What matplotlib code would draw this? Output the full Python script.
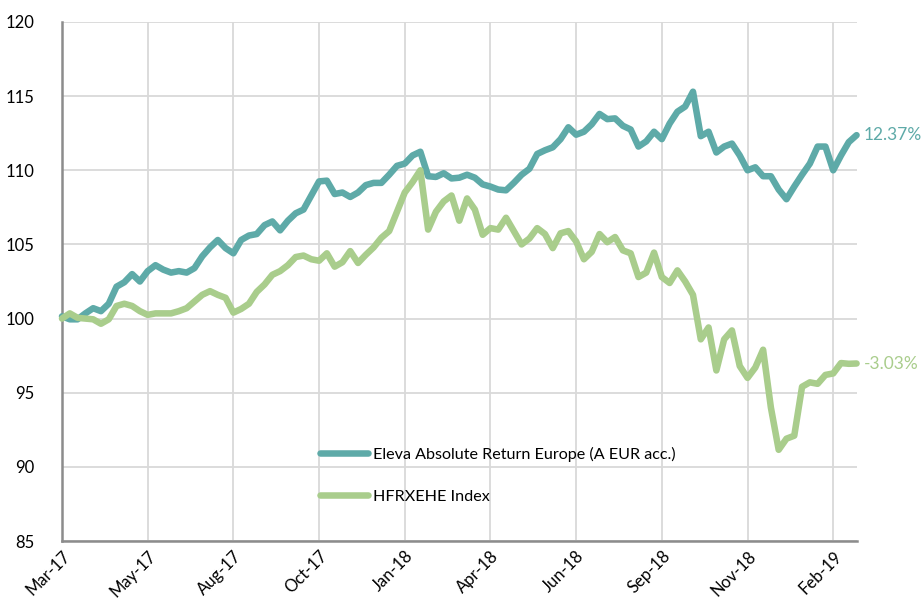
import matplotlib
matplotlib.use("Agg")
import matplotlib.pyplot as plt
import numpy as np

tick_labels = ["Mar-17", "May-17", "Aug-17", "Oct-17", "Jan-18", "Apr-18",
               "Jun-18", "Sep-18", "Nov-18", "Feb-19"]
points_per_tick = 11

eleva = [100.15, 99.95, 99.95, 100.35, 100.7, 100.5, 101.0, 102.15, 102.45, 103.0,
         102.5, 103.2, 103.6, 103.3, 103.1, 103.2, 103.1, 103.4, 104.2, 104.8,
         105.3, 104.75, 104.4, 105.3, 105.6, 105.7, 106.3, 106.55, 105.95, 106.6,
         107.1, 107.35, 108.3, 109.25, 109.3, 108.4, 108.5, 108.2, 108.5, 109.0,
         109.15, 109.15, 109.7, 110.3, 110.45, 111.0, 111.25, 109.6, 109.55, 109.8,
         109.45, 109.5, 109.7, 109.5, 109.05, 108.9, 108.7, 108.65, 109.15, 109.7,
         110.1, 111.1, 111.35, 111.55, 112.1, 112.9, 112.4, 112.6, 113.1, 113.8,
         113.45, 113.5, 113.0, 112.75, 111.6, 111.95, 112.6, 112.1, 113.15, 113.95,
         114.3, 115.3, 112.3, 112.6, 111.2, 111.6, 111.8, 111.0, 110.0, 110.2,
         109.6, 109.6, 108.7, 108.05, 108.9, 109.7, 110.45, 111.6, 111.6, 110.0,
         111.0, 111.9, 112.37]

hfrx = [100.0, 100.35, 100.05, 100.0, 99.95, 99.65, 99.95, 100.85, 101.0, 100.85,
        100.5, 100.25, 100.35, 100.35, 100.35, 100.5, 100.7, 101.15, 101.6, 101.85,
        101.6, 101.4, 100.4, 100.65, 101.0, 101.8, 102.3, 102.95, 103.2, 103.6,
        104.15, 104.25, 104.0, 103.9, 104.4, 103.5, 103.8, 104.55, 103.75, 104.3,
        104.8, 105.45, 105.9, 107.2, 108.5, 109.2, 110.0, 106.0, 107.2, 107.9,
        108.3, 106.6, 108.1, 107.35, 105.65, 106.1, 106.0, 106.8, 105.9, 105.0,
        105.4, 106.1, 105.7, 104.75, 105.75, 105.9, 105.2, 104.0, 104.5, 105.7,
        105.15, 105.5, 104.6, 104.4, 102.8, 103.1, 104.45, 102.8, 102.4, 103.25,
        102.5, 101.6, 98.6, 99.4, 96.5, 98.6, 99.2, 96.8, 96.0, 96.7,
        97.9, 94.0, 91.15, 91.9, 92.1, 95.4, 95.7, 95.6, 96.2, 96.3,
        97.0, 96.95, 96.97]

series_names = ["Eleva Absolute Return Europe (A EUR acc.)", "HFRXEHE Index"]
end_labels = ["12.37%", "-3.03%"]

teal = "#5EAAA8"
green = "#A9CD8C"
font = ["Lato", "DejaVu Sans"]
plt.rcParams["font.family"] = font

fig = plt.figure(figsize=(9.22, 5.99), dpi=100)
ax = fig.add_axes([62 / 922, 1 - 541 / 599, (857 - 62) / 922, (541 - 22) / 599])

x = np.arange(len(eleva))
l1, = ax.plot(x, eleva, color=teal, lw=4.7, solid_capstyle="round",
              solid_joinstyle="round", label=series_names[0], clip_on=False, zorder=3)
l2, = ax.plot(x, hfrx, color=green, lw=4.7, solid_capstyle="round",
              solid_joinstyle="round", label=series_names[1], clip_on=False, zorder=3)

ax.set_ylim(85, 120)
ax.set_yticks(np.arange(85, 121, 5))
ax.set_xlim(0, (857 - 62) / 7.79)
ax.set_xticks(np.arange(len(tick_labels)) * points_per_tick)
ax.set_xticklabels(tick_labels, rotation=45, ha="right", rotation_mode="anchor")

ax.grid(True, color="#D9D9D9", lw=1.3)
ax.set_axisbelow(True)
for s in ["top", "right"]:
    ax.spines[s].set_visible(False)
for s in ["left", "bottom"]:
    ax.spines[s].set_color("#8C8C8C")
    ax.spines[s].set_linewidth(1.8)
ax.tick_params(axis="both", length=0, labelsize=12, colors="#000000")
ax.tick_params(axis="y", pad=20)
ax.tick_params(axis="x", pad=5)

ax.text(x[-1] + 0.9, eleva[-1], end_labels[0], color=teal, fontsize=12.5,
        va="center", ha="left")
ax.text(x[-1] + 0.9, hfrx[-1], end_labels[1], color=green, fontsize=12.5,
        va="center", ha="left")

leg = ax.legend(handles=[l1, l2], loc="upper left",
                bbox_to_anchor=(305 / 922, 1 - 432 / 599),
                bbox_transform=fig.transFigure, frameon=False,
                fontsize=11.6, handlelength=3.0, handletextpad=0.3,
                labelspacing=1.75)

fig.savefig("out.png", dpi=100)
